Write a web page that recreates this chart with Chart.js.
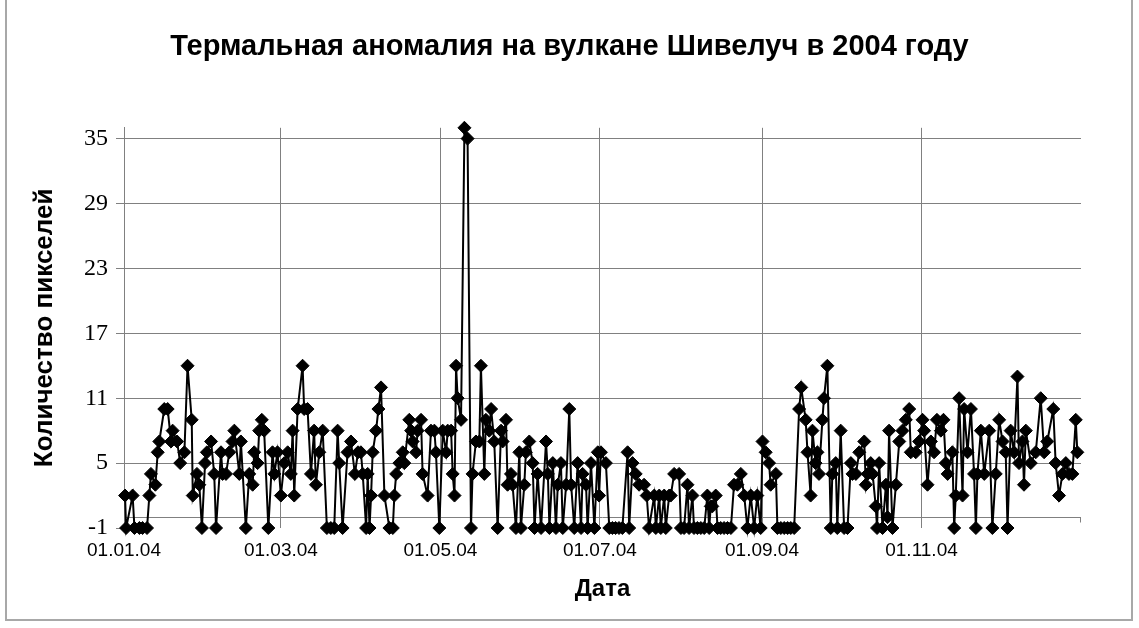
<!DOCTYPE html>
<html>
<head>
<meta charset="utf-8">
<script src="https://cdn.jsdelivr.net/npm/chart.js@4.4.1/dist/chart.umd.min.js"></script>
<style>
  html, body { margin: 0; padding: 0; background: #fff; }
  #wrap { position: relative; width: 1139px; height: 628px; overflow: hidden; }
  #frame { position: absolute; left: 5px; top: -3px; width: 1128px; height: 624px;
           border: 2px solid #a8a8a8; box-sizing: border-box; pointer-events: none; }
</style>
</head>
<body>
<div id="wrap">
  <canvas id="volcanoChart" width="1139" height="628"></canvas>
  <div id="frame"></div>
</div>
<script>
const obsDays = [
  0.4, 0.8, 3.3, 4, 5.9, 7.1, 8.8, 9.7, 10.3, 12, 12.9, 13.5, 15.4, 16.7, 18, 18.6, 20.3, 21.5, 23.1, 24.3,
  25.9, 26.3, 27.9, 28.8, 29.8, 31, 31.7, 33.3, 34.5, 35.2, 37.1, 37.7, 39, 40.3, 41.5, 42.2, 44.1, 44.7, 46.6, 47.9,
  49.2, 49.8, 51.1, 51.7, 52.7, 53.6, 55.2, 56.8, 57.5, 58.7, 60, 61.3, 62.6, 63.8, 64.5, 65.1, 66.4, 68.3, 68.9, 70.2,
  71.5, 72.7, 73.4, 74.7, 76, 77.6, 79.1, 80.4, 81.7, 82.3, 83.6, 85.5, 86.8, 88.3, 89.5,
  90.6, 91.3, 92.6, 93.2, 93.9, 94.5, 95.1, 96.4, 97.3, 98.3, 99.6, 101.5, 102.8, 103.4, 104.1, 105.3, 106.6, 107.2, 109.1, 109.8,
  110.4, 111.7, 112.3, 113.6, 114.2, 116.1, 117.4, 118.7, 119.3, 120.6, 121.9, 123.2, 123.8, 125.1, 125.7, 126.4, 127, 127.6, 128.9, 130.2,
  131.4, 132.7, 133.3, 134.6, 135.9, 136.5, 137.8, 138.4, 139.7, 140.4, 141.6, 142.9, 144.2, 144.8, 146.1, 146.7, 148, 148.6, 149.9, 151.2,
  151.8, 153.1, 153.7, 155, 156.3, 157, 158.2, 159.5, 161.4, 162.1, 162.7, 164, 165.2, 165.9, 167.1, 167.8, 169.1, 170.3, 171, 172.2,
  173.5, 174.8, 175.4, 176.7, 177.3, 178.6, 179.9, 181.2,
  181.7, 182.4, 184.3, 185.6, 186.8, 188, 189.3, 190.6, 192.6, 193.2, 194.5, 195.7, 197, 198.9, 199.9, 200.8, 202.8, 203.4, 204.7, 205.3,
  206.6, 207.2, 208.5, 209.1, 210.4, 212.3, 213, 214.2, 215.5, 216.1, 217.4, 218, 219.3, 220.6, 221.9, 223.1, 223.8, 224.4, 225, 226.3,
  227, 228.2, 229.5, 230.8, 232.1, 233.3, 234.6, 235.9, 237.2, 238.4, 239.7, 241, 242.2, 243.5, 244.2, 245.4, 246.7, 247.3, 249.3, 249.9,
  251.2, 252.5, 253.8, 255, 256.3, 258.2, 259, 260.7, 261.4, 262.6, 263.3, 264.5, 265.2, 265.8, 267.1, 267.7, 269, 270.3, 270.9, 272.2,
  272.8, 274.1,
  275.4, 276.7, 278, 278.6, 279.9, 281.2, 283.1, 283.7, 284.4, 285.6, 286.3, 287.5, 288, 288.8, 290.1, 291.4, 292, 292.6, 293.9, 295.2,
  296.5, 297.7, 299, 300.3, 300.9, 302.8, 304.1, 305.4, 306, 307.3, 308.6, 309.8, 310.9, 312.4, 313.4, 314.3, 315, 316.8, 317.5, 318.1,
  319.4, 320.7, 321.3, 322.6, 323.9, 325.1, 325.8, 326.4, 327.7, 329, 330.9, 332.1, 333.4, 334.7, 336, 337.2, 337.9, 339.1, 340.4, 341.7,
  342.3, 343.6, 344.2, 344.9, 346.8, 348.7, 350.6, 351.9, 353.1, 355.4, 356.3, 357.6, 358.9, 360.2, 361.4, 362.7, 364, 364.6
];

// number of hot pixels, -1 = no observation
const pixelCounts = [
  2, -1, 2, -1, -1, -1, -1, 2, 4, 3, 6, 7, 10, 10, 7, 8, 7, 5, 6, 14,
  9, 2, 4, 3, -1, 5, 6, 7, 4, -1, 6, 4, 4, 6, 7, 8, 4, 7, -1, 4,
  3, 6, 5, 8, 9, 8, -1, 6, 4, 6, 2, 5, 6, 4, 8, 2, 10, 14, 10, 10,
  4, 8, 3, 6, 8, -1, -1, -1, 8, 5, -1, 6, 7, 4, 6,
  6, 4, -1, 4, -1, 2, 6, 8, 10, 12, 2, -1, -1, 2, 4, 5, 6, 5, 9, 8,
  7, 6, 8, 9, 4, 2, 8, 8, 6, -1, 8, 6, 8, 8, 4, 2, 14, 11, 9, 36,
  35, -1, 4, 7, 7, 14, 4, 9, 8, 10, 7, -1, 8, 7, 9, 3, 4, 3, -1, 6,
  -1, 3, 6, 7, 5, -1, 4, -1, 7, 4, -1, 5, -1, 3, 5, -1, 3, 10, 3, -1,
  5, -1, 4, 3, -1, 5, -1, 6,
  2, 6, 5, -1, -1, -1, -1, -1, 6, -1, 5, 4, 3, 3, 2, -1, 2, -1, 2, -1,
  2, -1, 2, 2, 4, 4, -1, -1, 3, -1, 2, -1, -1, -1, -1, 2, -1, 1, 1, 2,
  -1, -1, -1, -1, -1, 3, 3, 4, 2, -1, 2, -1, 2, -1, 7, 6, 5, 3, 4, -1,
  -1, -1, -1, -1, -1, 10, 12, 9, 6, 2, 8, 5, 6, 4, 9, 11, 14, -1, 4, 5,
  -1, 8,
  -1, -1, 5, 4, 4, 6, 7, 3, 4, 5, 4, 1, -1, 5, -1, 3, 0, 8, -1, 3,
  7, 8, 9, 10, 6, 6, 7, 9, 8, 3, 7, 6, 9, 8, 9, 5, 4, 6, -1, 2,
  11, 2, 10, 6, 10, 4, -1, 4, 8, 4, 8, -1, 4, 9, 7, 6, -1, 8, 6, 13,
  5, 7, 3, 8, 5, 6, 11, 6, 7, 10, 5, 2, 4, 5, 4, 4, 9, 6
];

const tickDays = [0, 60, 121, 182, 244, 305];
const tickLabels = ['01.01.04', '01.03.04', '01.05.04', '01.07.04', '01.09.04', '01.11.04'];
const yTicks = [-1, 5, 11, 17, 23, 29, 35];

const GRID = '#808080';

// excel puts the category axis at zero, not at the bottom of the plot
const zeroAxisLine = {
  id: 'zeroAxisLine',
  beforeDatasetsDraw(chart) {
    const { ctx, chartArea, scales } = chart;
    const y0 = Math.round(scales.y.getPixelForValue(0)) + 0.5;
    ctx.save();
    ctx.strokeStyle = GRID;
    ctx.lineWidth = 1;
    ctx.beginPath();
    ctx.moveTo(chartArea.left, y0);
    ctx.lineTo(chartArea.right, y0);
    ctx.moveTo(chartArea.right - 0.5, y0);
    ctx.lineTo(chartArea.right - 0.5, y0 + 5);
    ctx.stroke();
    ctx.restore();
  }
};

const points = obsDays.map((d, i) => ({ x: d, y: pixelCounts[i] }));

new Chart(document.getElementById('volcanoChart'), {
  type: 'line',
  data: {
    datasets: [{
      data: points,
      clip: false,
      borderColor: '#000',
      backgroundColor: '#000',
      borderWidth: 2,
      tension: 0,
      pointStyle: 'rectRot',
      pointRadius: 6.5,
      pointBorderWidth: 1,
      pointBackgroundColor: '#000',
      pointBorderColor: '#000'
    }]
  },
  options: {
    responsive: false,
    animation: false,
    layout: { padding: 0 },
    plugins: {
      legend: { display: false },
      tooltip: { enabled: false },
      title: {
        display: true,
        text: 'Термальная аномалия на вулкане Шивелуч в 2004 году',
        color: '#000',
        font: { family: 'Liberation Sans, Arial, sans-serif', size: 29, weight: 'bold' },
        padding: { top: 30, bottom: 63 }
      }
    },
    scales: {
      x: {
        type: 'linear',
        min: 0,
        max: 366,
        afterBuildTicks: s => { s.ticks = tickDays.map(v => ({ value: v })); },
        afterFit: s => { s.height = 100; },
        border: { display: false },
        grid: { color: GRID, lineWidth: 1, drawTicks: false },
        ticks: {
          autoSkip: false,
          maxRotation: 0,
          padding: 11,
          color: '#000',
          font: { family: 'Liberation Sans, Arial, sans-serif', size: 19 },
          callback: (v, i) => tickLabels[i]
        },
        title: {
          display: true,
          text: 'Дата',
          color: '#000',
          font: { family: 'Liberation Sans, Arial, sans-serif', size: 24, weight: 'bold' },
          padding: { top: 0, bottom: 24 }
        }
      },
      y: {
        min: -1,
        max: 36,
        afterBuildTicks: s => { s.ticks = yTicks.map(v => ({ value: v })); },
        afterFit: s => { s.width = 124; },
        border: { display: true, color: GRID, width: 1 },
        grid: {
          color: c => (c.tick && c.tick.value === -1) ? 'rgba(0,0,0,0)' : GRID,
          tickColor: GRID,
          tickLength: 8,
          lineWidth: 1
        },
        ticks: {
          padding: 8,
          color: '#000',
          font: { family: 'Liberation Serif, Times New Roman, serif', size: 24 }
        },
        title: {
          display: true,
          text: 'Количество пикселей',
          color: '#000',
          font: { family: 'Liberation Sans, Arial, sans-serif', size: 26, weight: 'bold' },
          padding: { top: 29, bottom: 0 }
        }
      },
      // empty strip on the right so the title stays centred on the whole picture
      spacer: {
        type: 'linear',
        position: 'right',
        display: true,
        afterFit: s => { s.width = 58; },
        border: { display: false },
        grid: { drawOnChartArea: false, drawTicks: false },
        ticks: { display: false }
      }
    }
  },
  plugins: [zeroAxisLine]
});
</script>
</body>
</html>
